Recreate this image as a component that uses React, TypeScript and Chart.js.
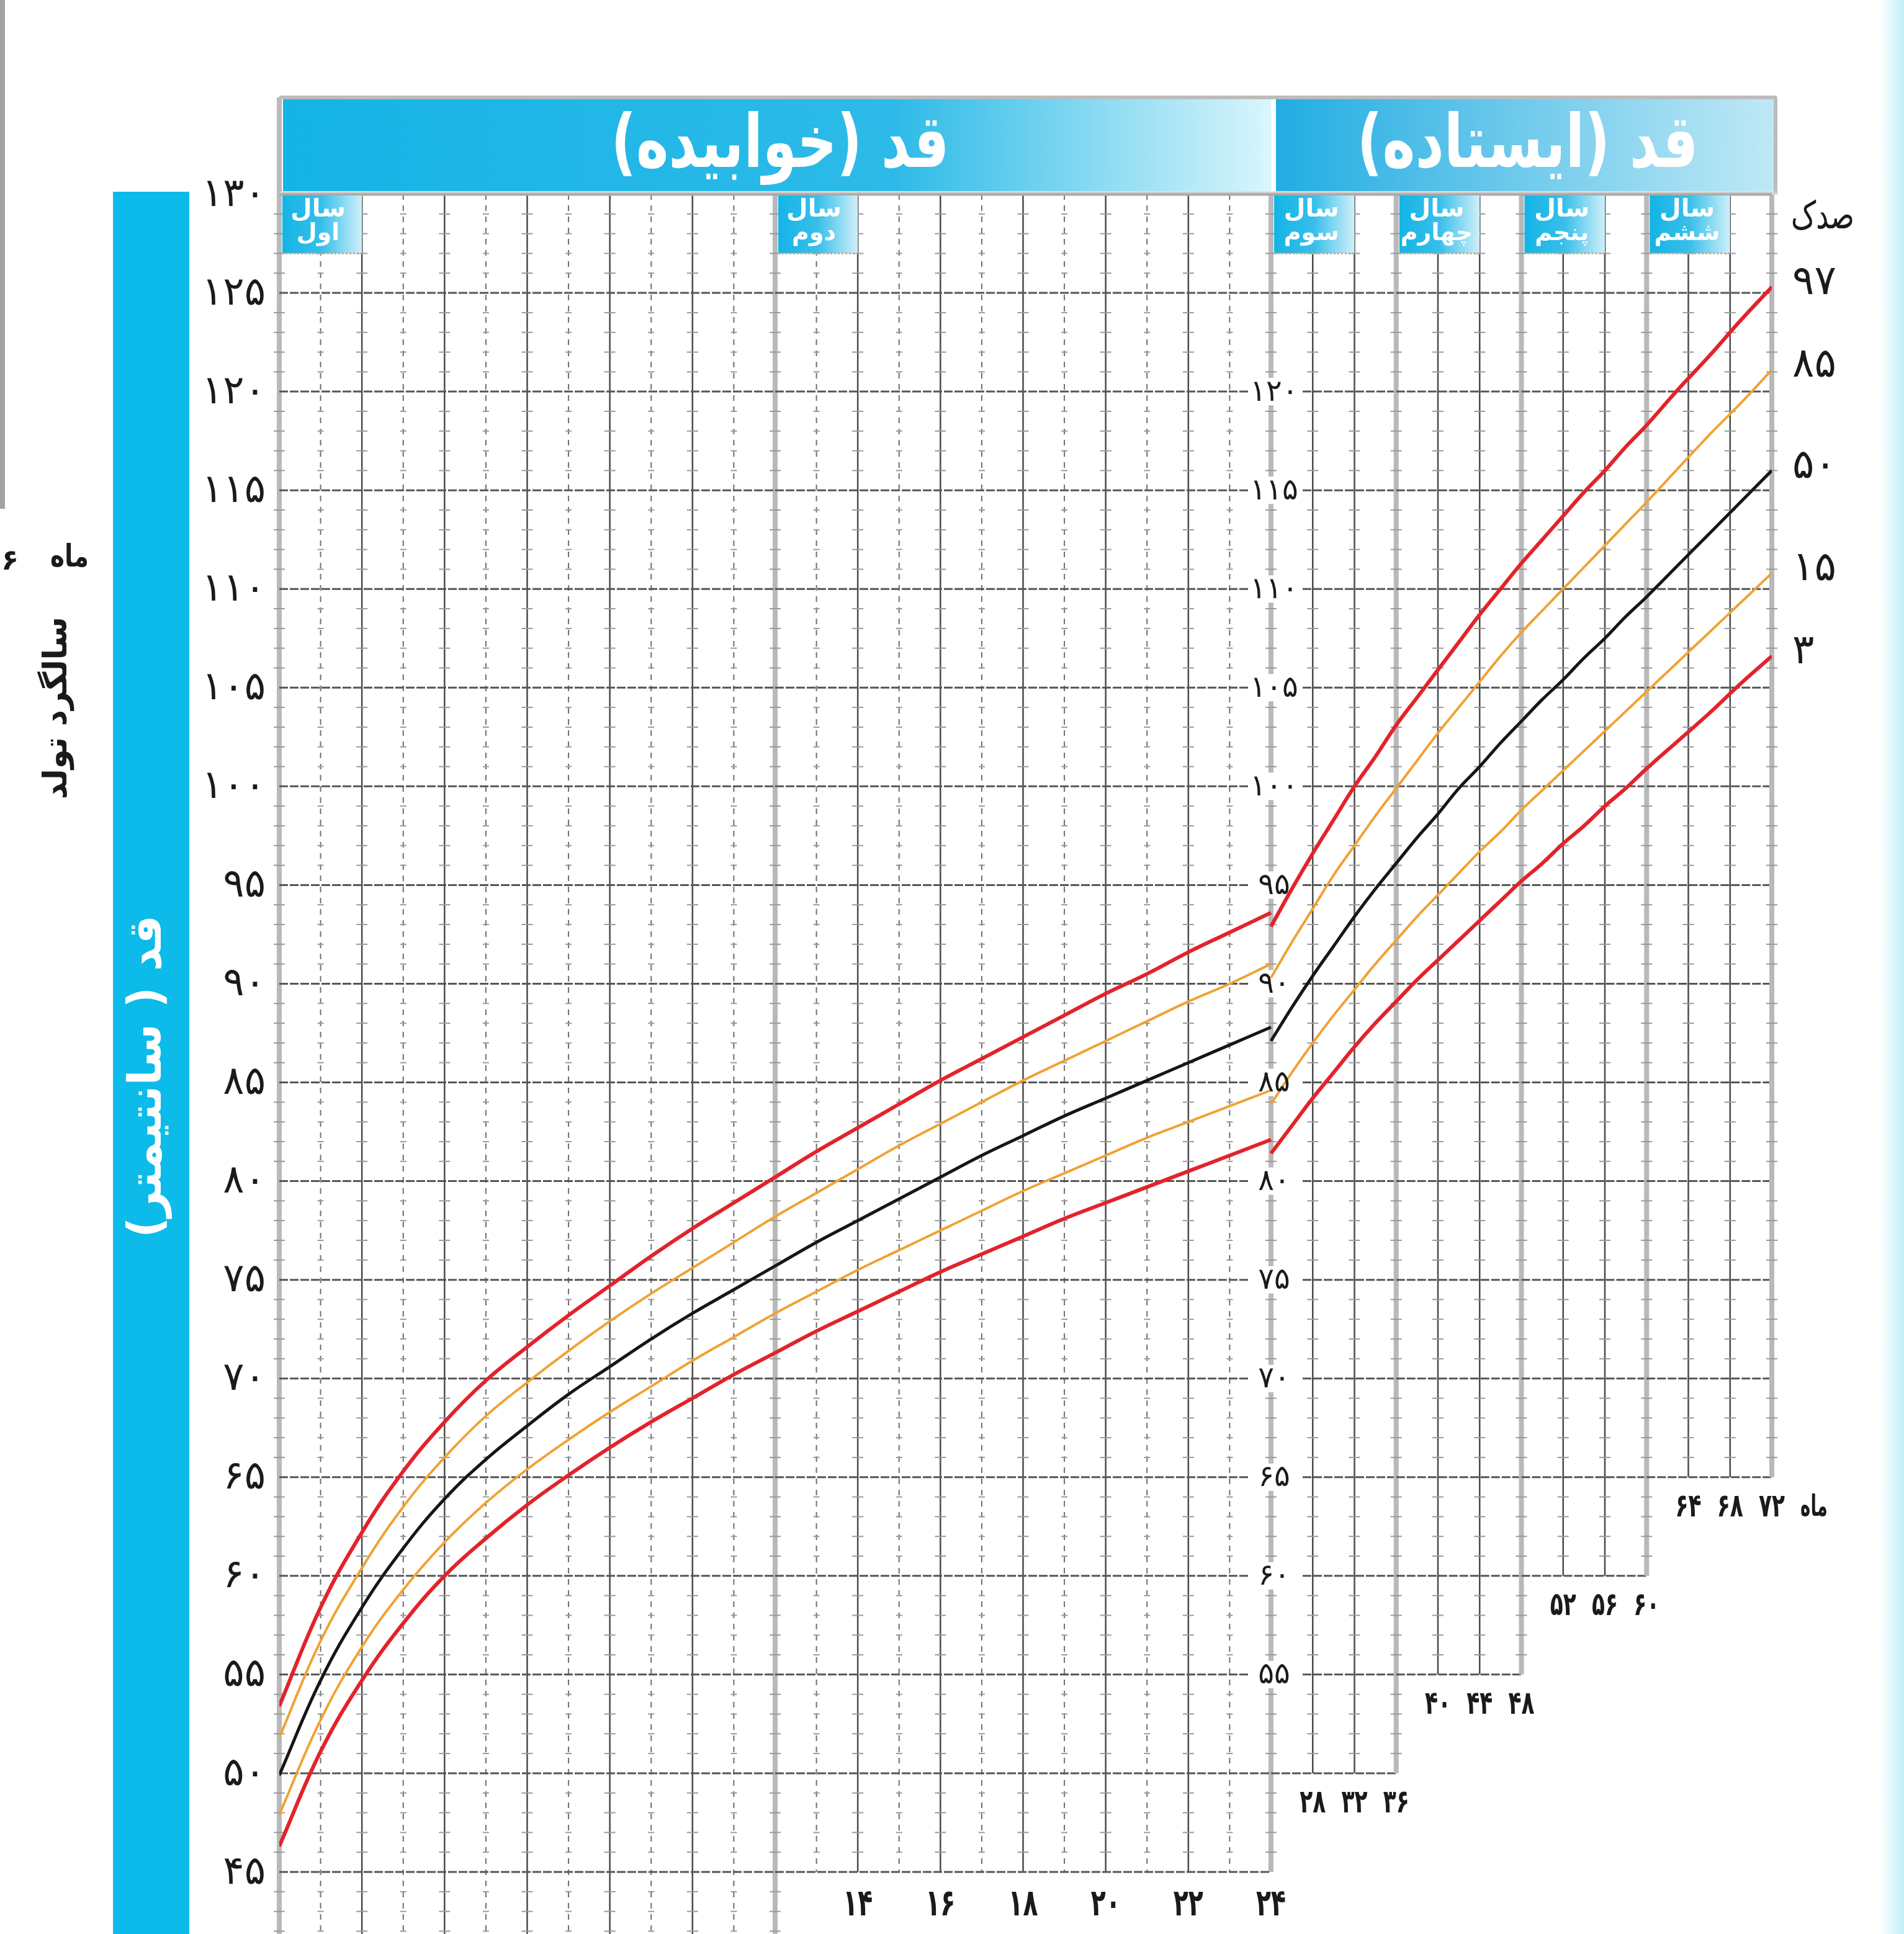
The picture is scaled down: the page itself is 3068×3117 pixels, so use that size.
import React, { useEffect, useRef } from 'react';
import { Chart, registerables } from 'chart.js';

Chart.register(...registerables);

// ---------- DATA ----------
const lyingMonths = [0, 1, 2, 3, 4, 5, 6, 7, 8, 9, 10, 11, 12, 13, 14, 15, 16, 17, 18, 19, 20, 21, 22, 23, 24];
const lyingP3 = [46.3, 51.1, 54.7, 57.6, 60.0, 61.9, 63.6, 65.1, 66.5, 67.8, 69.0, 70.2, 71.3, 72.4, 73.4, 74.4, 75.4, 76.3, 77.2, 78.1, 78.9, 79.7, 80.5, 81.3, 82.1];
const lyingP15 = [47.9, 52.7, 56.4, 59.3, 61.7, 63.7, 65.4, 66.9, 68.3, 69.6, 70.9, 72.1, 73.3, 74.4, 75.5, 76.5, 77.5, 78.5, 79.5, 80.4, 81.3, 82.2, 83.0, 83.8, 84.6];
const lyingP50 = [49.9, 54.7, 58.4, 61.4, 63.9, 65.9, 67.6, 69.2, 70.6, 72.0, 73.3, 74.5, 75.7, 76.9, 78.0, 79.1, 80.2, 81.3, 82.3, 83.3, 84.2, 85.1, 86.0, 86.9, 87.8];
const lyingP85 = [51.8, 56.7, 60.4, 63.5, 66.0, 68.1, 69.8, 71.4, 72.9, 74.3, 75.6, 76.9, 78.2, 79.4, 80.6, 81.8, 82.9, 84.0, 85.1, 86.1, 87.1, 88.1, 89.1, 90.0, 91.0];
const lyingP97 = [53.4, 58.4, 62.2, 65.3, 67.8, 69.9, 71.6, 73.2, 74.7, 76.2, 77.6, 78.9, 80.2, 81.5, 82.7, 83.9, 85.1, 86.2, 87.3, 88.4, 89.5, 90.5, 91.6, 92.6, 93.6];

const standingMonths = [24, 26, 28, 30, 32, 34, 36, 38, 40, 42, 44, 46, 48, 50, 52, 54, 56, 58, 60, 63, 66, 69, 72];
const standingP3 = [81.4, 82.8, 84.2, 85.5, 86.8, 88.0, 89.1, 90.2, 91.2, 92.2, 93.2, 94.2, 95.2, 96.1, 97.1, 98.0, 99.0, 99.9, 100.9, 102.3, 103.7, 105.2, 106.6];
const standingP15 = [83.9, 85.5, 87.0, 88.4, 89.7, 91.0, 92.2, 93.4, 94.5, 95.6, 96.7, 97.7, 98.8, 99.8, 100.8, 101.8, 102.8, 103.8, 104.8, 106.3, 107.8, 109.3, 110.8];
const standingP50 = [87.1, 88.8, 90.4, 91.9, 93.4, 94.8, 96.1, 97.4, 98.6, 99.9, 101.0, 102.2, 103.3, 104.4, 105.4, 106.5, 107.5, 108.6, 109.6, 111.2, 112.8, 114.4, 116.0];
const standingP85 = [90.3, 92.1, 93.8, 95.5, 97.0, 98.5, 99.9, 101.3, 102.7, 104.0, 105.3, 106.6, 107.8, 108.9, 110.0, 111.1, 112.2, 113.3, 114.4, 116.1, 117.8, 119.4, 121.1];
const standingP97 = [92.9, 94.8, 96.6, 98.3, 100.0, 101.5, 103.1, 104.5, 105.9, 107.3, 108.7, 110.0, 111.3, 112.5, 113.7, 114.9, 116.0, 117.2, 118.3, 120.1, 121.8, 123.6, 125.3];

const percentileNames = ['۹۷', '۸۵', '۵۰', '۱۵', '۳'];
const heightTicks = [45, 50, 55, 60, 65, 70, 75, 80, 85, 90, 95, 100, 105, 110, 115, 120, 125, 130];
const standingHeightTicks = [55, 60, 65, 70, 75, 80, 85, 90, 95, 100, 105, 110, 115, 120];
const lyingMonthTicks = [14, 16, 18, 20, 22, 24];
const standingBlockStarts = [24, 36, 48, 60];
const standingBlockBottoms = [50, 55, 60, 65];
const lyingYearNames = ['اول', 'دوم'];
const standingYearNames = ['سوم', 'چهارم', 'پنجم', 'ششم'];

// ---------- SCALE BOUNDS ----------
const Y_MIN = 41.856;
const Y_MAX = 130;
const XL_MIN = 0;
const XL_MAX = 36.12;
const XS_MIN = -71.05;
const XS_MAX = 72;

const FA = '۰۱۲۳۴۵۶۷۸۹';
const toFa = (n: number) => String(n).replace(/\d/g, (d) => FA[Number(d)]);
const FONT = '"DejaVu Sans"';

function txt(ctx: CanvasRenderingContext2D, s: string, x: number, y: number, o: any) {
  ctx.save();
  ctx.translate(x, y);
  if (o.rot) ctx.rotate(o.rot);
  ctx.font = `${o.bold ? 'bold ' : ''}${o.size}px ${o.font || FONT}`;
  ctx.fillStyle = o.color || '#1a1a1a';
  ctx.textAlign = o.align || 'center';
  ctx.textBaseline = 'middle';
  (ctx as any).direction = o.dir || 'rtl';
  (ctx as any).letterSpacing = (o.spacing || 0) + 'px';
  if (o.w) {
    const m = ctx.measureText(s).width;
    if (m > 0) ctx.scale(o.w / m, 1);
  }
  ctx.fillText(s, 0, 0);
  ctx.restore();
}

function line(ctx: CanvasRenderingContext2D, x1: number, y1: number, x2: number, y2: number, color: string, w: number, dash: number[] = []) {
  ctx.save();
  ctx.strokeStyle = color;
  ctx.lineWidth = w;
  ctx.setLineDash(dash);
  ctx.beginPath();
  ctx.moveTo(x1, y1);
  ctx.lineTo(x2, y2);
  ctx.stroke();
  ctx.restore();
}

const THICK = '#b9b9b9';
const SOLID = '#4a4a4a';
const DASHED = '#6e6e6e';
const MAJOR = '#565656';
const TICK = '#9a9a9a';

const gridPlugin = {
  id: 'growthGrid',
  beforeDraw(chart: any) {
    const ctx: CanvasRenderingContext2D = chart.ctx;
    ctx.save();
    ctx.fillStyle = '#ffffff';
    ctx.fillRect(0, 0, chart.width, chart.height);
    const g = ctx.createLinearGradient(3028, 0, 3068, 0);
    g.addColorStop(0, 'rgba(200,244,250,0)');
    g.addColorStop(1, '#bdeff8');
    ctx.fillStyle = g;
    ctx.fillRect(3028, 0, 40, chart.height);
    ctx.fillStyle = '#a3a3a3';
    ctx.fillRect(0, 0, 8, 820);
    ctx.restore();
  },
  beforeDatasetsDraw(chart: any) {
    const ctx: CanvasRenderingContext2D = chart.ctx;
    const xL = (m: number) => chart.scales.xL.getPixelForValue(m);
    const xS = (m: number) => chart.scales.xS.getPixelForValue(m);
    const y = (v: number) => chart.scales.y.getPixelForValue(v);
    const H = chart.height;

    // ----- lying section -----
    for (let m = 0; m <= 24; m++) {
      const x = xL(m);
      const bottom = m <= 12 ? H : y(45);
      const bottomV = m <= 12 ? Y_MIN : 45;
      if (m % 12 === 0) {
        line(ctx, x, m === 0 ? 157 : y(130), x, bottom, THICK, 8);
      } else if (m % 2 === 0) {
        line(ctx, x, y(130), x, bottom, SOLID, 2.5);
      } else {
        line(ctx, x, y(130), x, bottom, DASHED, 2, [9, 9]);
      }
      for (let v = Math.ceil(bottomV + 0.01); v < 130; v++) {
        if (v % 5 === 0) continue;
        const len = m % 2 === 0 ? 9 : 5;
        line(ctx, x - len, y(v), x + len, y(v), TICK, 2);
      }
    }
    for (const v of heightTicks) {
      if (v === 130) continue;
      line(ctx, xL(0), y(v), xL(24), y(v), MAJOR, 3, [14, 3]);
    }

    // ----- standing section -----
    standingBlockStarts.forEach((s, i) => {
      const e = s + 12;
      const b = standingBlockBottoms[i];
      for (let v = b; v < 130; v += 5) {
        line(ctx, xS(s), y(v), xS(e), y(v), MAJOR, 3, [14, 3]);
      }
      [s + 4, s + 8].forEach((m) => line(ctx, xS(m), y(130), xS(m), y(b), SOLID, 2.5));
      line(ctx, xS(e), y(130), xS(e), y(b), THICK, 8);
      [s + 4, s + 8, e].forEach((m) => {
        for (let v = b + 1; v < 130; v++) {
          if (v % 5 === 0) continue;
          line(ctx, xS(m) - 9, y(v), xS(m) + 9, y(v), TICK, 2);
        }
      });
    });

    line(ctx, xL(0), y(130), xS(72), y(130), '#a9a9a9', 5);

    // ----- header bands -----
    const hTop = 160, hBot = 308;
    let g = ctx.createLinearGradient(xL(0), 0, xL(24), 0);
    g.addColorStop(0, '#15b4e6');
    g.addColorStop(0.62, '#2dbae8');
    g.addColorStop(1, '#daf6fc');
    ctx.fillStyle = g;
    ctx.fillRect(xL(0) + 6, hTop, xL(24) - xL(0) - 6, hBot - hTop);
    g = ctx.createLinearGradient(xS(24), 0, xS(72), 0);
    g.addColorStop(0, '#20ace2');
    g.addColorStop(1, '#bfe8f6');
    ctx.fillStyle = g;
    ctx.fillRect(xS(24) + 8, hTop, xS(72) - xS(24), hBot - hTop);
    line(ctx, xL(0), 157, xS(72) + 8, 157, '#bcbcbc', 6);
    line(ctx, xS(72) + 6, 157, xS(72) + 6, y(130), '#bcbcbc', 6);
    line(ctx, xL(0), hBot + 2, xS(72) + 8, hBot + 2, '#d0d0d0', 3);

    // ----- year boxes -----
    const box = (x1: number, x2: number) => {
      const gg = ctx.createLinearGradient(x1, 0, x2, 0);
      gg.addColorStop(0, '#14b4e6');
      gg.addColorStop(0.5, '#38bfea');
      gg.addColorStop(1, '#cfeff9');
      ctx.fillStyle = gg;
      ctx.fillRect(x1, y(130) + 2, x2 - x1, y(127) - y(130) - 2);
      line(ctx, x1, y(127), x2, y(127), '#c9a58a', 3, [3, 3]);
    };
    box(xL(0) + 5, xL(2));
    box(xL(12) + 5, xL(14));
    standingBlockStarts.forEach((s) => box(xS(s) + 5, xS(s + 8)));

    ctx.save();
    ctx.fillStyle = '#ffffff';
    standingHeightTicks.forEach((v) => {
      ctx.fillRect(xS(24) - 36, y(v) - 22, 86, 44);
    });
    ctx.restore();
  },
  afterDatasetsDraw(chart: any) {
    const ctx: CanvasRenderingContext2D = chart.ctx;
    const xL = (m: number) => chart.scales.xL.getPixelForValue(m);
    const xS = (m: number) => chart.scales.xS.getPixelForValue(m);
    const y = (v: number) => chart.scales.y.getPixelForValue(v);
    const H = chart.height;

    ctx.save();
    ctx.fillStyle = '#0cbbe9';
    ctx.fillRect(182, 309, 123, H - 309);
    ctx.restore();
    txt(ctx, 'قد ( سانتیمتر)', 240, 1735, { size: 74, bold: true, color: '#ffffff', rot: -Math.PI / 2, w: 520 });

    txt(ctx, 'ماه', 112, 900, { size: 50, bold: true, w: 62 });
    txt(ctx, '۶', 16, 906, { size: 46, bold: true });
    txt(ctx, 'سالگرد تولد', 93, 1141, { size: 52, bold: true, rot: -Math.PI / 2, w: 294 });

    heightTicks.forEach((v) => {
      txt(ctx, toFa(v), 428, y(v) + 2, { size: 64, align: 'right', dir: 'ltr', spacing: 8 });
    });
    standingHeightTicks.forEach((v) => {
      txt(ctx, toFa(v), xS(24) + 5, y(v) + 2, { size: 48, dir: 'ltr', spacing: 2 });
    });

    lyingMonthTicks.forEach((m) => {
      txt(ctx, toFa(m), xL(m), y(43.3), { size: 60, bold: true, dir: 'ltr', w: 48 });
    });
    standingBlockStarts.forEach((s, i) => {
      const b = standingBlockBottoms[i];
      [s + 4, s + 8, s + 12].forEach((m) => {
        txt(ctx, toFa(m), xS(m), y(b - 1.55), { size: 52, bold: true, dir: 'ltr', w: 42 });
      });
      if (i === 3) txt(ctx, 'ماه', 2923, y(b - 1.55), { size: 48, bold: true, w: 44 });
    });

    txt(ctx, 'قد (خوابیده)', xL(12) + 8, 238, { size: 118, bold: true, color: '#ffffff', w: 545 });
    txt(ctx, 'قد (ایستاده)', xS(48) + 10, 238, { size: 118, bold: true, color: '#ffffff', w: 550 });

    const boxText = (cx: number, name: string) => {
      txt(ctx, 'سال', cx, y(130) + 26, { size: 40, bold: true, color: '#ffffff' });
      txt(ctx, name, cx, y(130) + 64, { size: 38, bold: true, color: '#ffffff' });
    };
    boxText((xL(0) + xL(2)) / 2 - 4, lyingYearNames[0]);
    boxText((xL(12) + xL(14)) / 2 - 4, lyingYearNames[1]);
    standingBlockStarts.forEach((s, i) => boxText((xS(s) + xS(s + 8)) / 2 - 2, standingYearNames[i]));

    const ends = [standingP97, standingP85, standingP50, standingP15, standingP3].map((a) => a[a.length - 1]);
    txt(ctx, 'صدک', 2937, 352, { size: 62, w: 102 });
    ends.forEach((v, i) => {
      txt(ctx, percentileNames[i], 2888, y(v) - 6, { size: 66, align: 'left', dir: 'ltr', spacing: 4 });
    });
  },
};

const RED = '#e2232b';
const ORANGE = '#f0a233';
const BLACK = '#161616';

function mk(months: number[], vals: number[], axis: string, color: string, width: number) {
  return {
    data: months.map((m, i) => ({ x: m, y: vals[i] })),
    xAxisID: axis,
    yAxisID: 'y',
    borderColor: color,
    borderWidth: width,
    pointRadius: 0,
    fill: false,
    tension: 0.4,
  };
}

export default function App() {
  const ref = useRef<HTMLCanvasElement>(null);
  useEffect(() => {
    if (!ref.current) return;
    const datasets = [
      mk(lyingMonths, lyingP97, 'xL', RED, 6),
      mk(lyingMonths, lyingP85, 'xL', ORANGE, 4),
      mk(lyingMonths, lyingP50, 'xL', BLACK, 5),
      mk(lyingMonths, lyingP15, 'xL', ORANGE, 4),
      mk(lyingMonths, lyingP3, 'xL', RED, 6),
      mk(standingMonths, standingP97, 'xS', RED, 6),
      mk(standingMonths, standingP85, 'xS', ORANGE, 4),
      mk(standingMonths, standingP50, 'xS', BLACK, 5),
      mk(standingMonths, standingP15, 'xS', ORANGE, 4),
      mk(standingMonths, standingP3, 'xS', RED, 6),
    ];
    const chart = new Chart(ref.current, {
      type: 'line',
      data: { datasets } as any,
      options: {
        animation: false,
        responsive: false,
        maintainAspectRatio: false,
        devicePixelRatio: 1,
        layout: { padding: { left: 450, right: 213, top: 313, bottom: 0 } },
        plugins: { legend: { display: false }, tooltip: { enabled: false }, title: { display: false } },
        scales: {
          xL: { type: 'linear', display: false, min: XL_MIN, max: XL_MAX },
          xS: { type: 'linear', display: false, min: XS_MIN, max: XS_MAX },
          y: { type: 'linear', display: false, min: Y_MIN, max: Y_MAX },
        },
      } as any,
      plugins: [gridPlugin],
    });
    return () => chart.destroy();
  }, []);
  return (
    <div style={{ position: 'absolute', left: 0, top: 0, width: 3068, height: 3117, overflow: 'hidden', background: '#fff' }}>
      <canvas ref={ref} width={3068} height={3117} style={{ width: 3068, height: 3117, display: 'block' }} />
    </div>
  );
}
